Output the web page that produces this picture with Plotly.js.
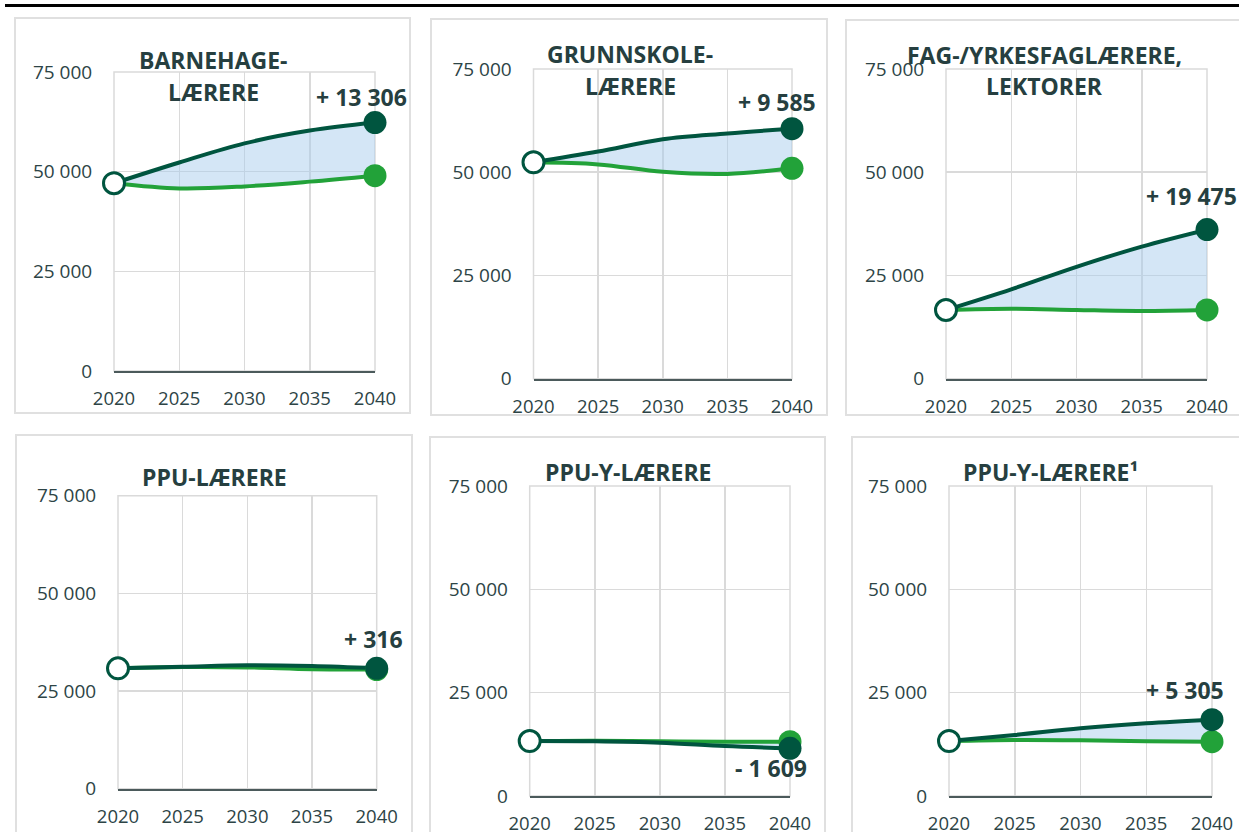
<!DOCTYPE html>
<html>
<head>
<meta charset="utf-8">
<script src="https://cdn.plot.ly/plotly-3.0.1.min.js"></script>
<style>
  html, body { margin: 0; padding: 0; background: #ffffff; }
  #chart { width: 1239px; height: 832px; }
</style>
</head>
<body>
<div id="chart"></div>
<script>
// ---- Data ----
const years = [2020, 2025, 2030, 2035, 2040];

const titles = [
  ["BARNEHAGE-", "LÆRERE"],
  ["GRUNNSKOLE-", "LÆRERE"],
  ["FAG-/YRKESFAGLÆRERE,", "LEKTORER"],
  ["PPU-LÆRERE"],
  ["PPU-Y-LÆRERE"],
  ["PPU-Y-LÆRERE¹"]
];

const barnehageDemand  = [47100, 52300, 57100, 60300, 62306];
const barnehageSupply  = [47100, 45800, 46300, 47500, 49000];

const grunnskoleDemand = [52400, 55000, 58000, 59400, 60535];
const grunnskoleSupply = [52400, 51900, 50100, 49600, 50950];

const fagDemand        = [16640, 21650, 27100, 32000, 36115];
const fagSupply        = [16640, 16950, 16640, 16400, 16640];

const ppuDemand        = [30800, 31200, 31600, 31400, 30816];
const ppuSupply        = [30800, 31150, 31050, 30550, 30500];

const ppuyDemand       = [13300, 13230, 12900, 12100, 11541];
const ppuySupply       = [13300, 13380, 13230, 13100, 13150];

const ppuy1Demand      = [13300, 14760, 16380, 17580, 18455];
const ppuy1Supply      = [13300, 13550, 13470, 13230, 13150];

const deltaLabels = ["+ 13 306", "+ 9 585", "+ 19 475", "+ 316", "- 1 609", "+ 5 305"];

const yTicks = [0, 25000, 50000, 75000];
const xTicks = [2020, 2025, 2030, 2035, 2040];

// ---- Layout geometry (pixels) ----
const W = 1239, H = 832;
const px = x => x / W;
const py = y => 1 - y / H;

const panels = [
  { demand: barnehageDemand,  supply: barnehageSupply,  plot: [114, 375, 72, 371],     box: [15, 410, 18, 413],  titleX: 213,  titleY: [60, 92],  delta: [361, 97] },
  { demand: grunnskoleDemand, supply: grunnskoleSupply, plot: [533.5, 792, 69, 378.7], box: [431, 827, 19, 415], titleX: 630,  titleY: [54, 86],  delta: [777, 102] },
  { demand: fagDemand,        supply: fagSupply,        plot: [946, 1207, 69, 378.7],  box: [846, 1250, 20, 415], titleX: 1044, titleY: [55, 86],  delta: [1191, 196] },
  { demand: ppuDemand,        supply: ppuSupply,        plot: [118, 376.7, 495.7, 788.7], box: [16, 412, 435, 840], titleX: 214, titleY: [477], delta: [373, 639] },
  { demand: ppuyDemand,       supply: ppuySupply,       plot: [529.7, 790, 486, 796],  box: [430, 825, 437, 840], titleX: 628, titleY: [472], delta: [771, 768] },
  { demand: ppuy1Demand,      supply: ppuy1Supply,      plot: [949, 1212, 486, 796],   box: [852, 1250, 437, 840], titleX: 1050, titleY: [472], delta: [1185, 690] }
];

const DARK = "#00553f";
const GREEN = "#22a239";
const FILL = "rgba(165,203,236,0.48)";
const TXT = "#263f40";
const TICK = "#2d4446";
const GRID = "#dadada";

const traces = [];
const layout = {
  width: W, height: H,
  margin: { l: 0, r: 0, t: 0, b: 0 },
  paper_bgcolor: "#ffffff",
  plot_bgcolor: "rgba(0,0,0,0)",
  showlegend: false,
  separators: ", ",
  font: { family: "Open Sans, sans-serif", color: TICK },
  shapes: [],
  annotations: []
};

// top black rule
layout.shapes.push({
  type: "line", xref: "paper", yref: "paper",
  x0: px(5), x1: 1, y0: py(5.5), y1: py(5.5),
  line: { color: "#000000", width: 3 }, layer: "above"
});

panels.forEach((p, i) => {
  const n = i + 1;
  const xa = n === 1 ? "x" : "x" + n;
  const ya = n === 1 ? "y" : "y" + n;
  const xKey = n === 1 ? "xaxis" : "xaxis" + n;
  const yKey = n === 1 ? "yaxis" : "yaxis" + n;
  const [x0, x1, yTop, yBot] = p.plot;

  layout[xKey] = {
    domain: [px(x0), px(x1)],
    anchor: ya,
    range: [2020, 2040],
    tickvals: xTicks,
    ticktext: xTicks.map(String),
    showgrid: true, gridcolor: GRID, gridwidth: 1.5,
    zeroline: false,
    showline: true, linecolor: "#4b5a5b", linewidth: 2,
    ticks: "outside", ticklen: 10, tickcolor: "rgba(0,0,0,0)",
    tickfont: { size: 18.5, color: TICK, family: "Open Sans" },
    fixedrange: true
  };
  layout[yKey] = {
    domain: [py(yBot), py(yTop)],
    anchor: xa,
    range: [0, 75000],
    tickvals: yTicks,
    tickformat: ",d",
    showgrid: true, gridcolor: GRID, gridwidth: 1.5,
    zeroline: false, showline: false,
    ticks: "outside", ticklen: 17, tickcolor: "rgba(0,0,0,0)",
    tickfont: { size: 19, color: TICK, family: "Open Sans" },
    fixedrange: true
  };

  // plot-area frame in grid colour (left, top, right edges)
  layout.shapes.push({
    type: "rect", xref: xa + " domain", yref: ya + " domain",
    x0: 0, x1: 1, y0: 0, y1: 1,
    line: { color: GRID, width: 1.5 }, fillcolor: "rgba(0,0,0,0)", layer: "below"
  });

  // supply (green) line
  traces.push({
    x: years, y: p.supply, xaxis: xa, yaxis: ya,
    type: "scatter", mode: "lines",
    line: { color: GREEN, width: 4, shape: "spline", smoothing: 1 },
    hoverinfo: "skip", cliponaxis: false
  });
  // demand (dark) line with fill to supply
  traces.push({
    x: years, y: p.demand, xaxis: xa, yaxis: ya,
    type: "scatter", mode: "lines",
    fill: "tonexty", fillcolor: FILL,
    line: { color: DARK, width: 4, shape: "spline", smoothing: 1 },
    hoverinfo: "skip", cliponaxis: false
  });
  const last = years.length - 1;
  // end markers
  traces.push({
    x: [years[last]], y: [p.supply[last]], xaxis: xa, yaxis: ya,
    type: "scatter", mode: "markers",
    marker: { color: GREEN, size: 23 },
    hoverinfo: "skip", cliponaxis: false
  });
  traces.push({
    x: [years[last]], y: [p.demand[last]], xaxis: xa, yaxis: ya,
    type: "scatter", mode: "markers",
    marker: { color: DARK, size: 23 },
    hoverinfo: "skip", cliponaxis: false
  });
  // start marker (white)
  traces.push({
    x: [years[0]], y: [p.demand[0]], xaxis: xa, yaxis: ya,
    type: "scatter", mode: "markers",
    marker: { color: "#ffffff", size: 21, line: { color: DARK, width: 3 } },
    hoverinfo: "skip", cliponaxis: false
  });

  // panel box
  const [bx0, bx1, by0, by1] = p.box;
  layout.shapes.push({
    type: "rect", xref: "paper", yref: "paper",
    x0: px(bx0), x1: px(bx1), y0: py(by1), y1: py(by0),
    line: { color: "#e0e0e0", width: 2 }, fillcolor: "rgba(0,0,0,0)", layer: "below"
  });

  // title lines
  titles[i].forEach((t, k) => {
    layout.annotations.push({
      xref: "paper", yref: "paper",
      x: px(p.titleX), y: py(p.titleY[k]),
      xanchor: "center", yanchor: "middle",
      text: "<b>" + t + "</b>", showarrow: false,
      font: { size: 23, color: TXT, family: "Open Sans" }
    });
  });

  // delta label
  layout.annotations.push({
    xref: "paper", yref: "paper",
    x: px(p.delta[0]), y: py(p.delta[1]),
    xanchor: "center", yanchor: "middle",
    text: "<b>" + deltaLabels[i] + "</b>", showarrow: false,
    font: { size: 23, color: TXT, family: "Open Sans" }
  });
});

Plotly.newPlot("chart", traces, layout, { displayModeBar: false, staticPlot: true });
</script>
</body>
</html>
